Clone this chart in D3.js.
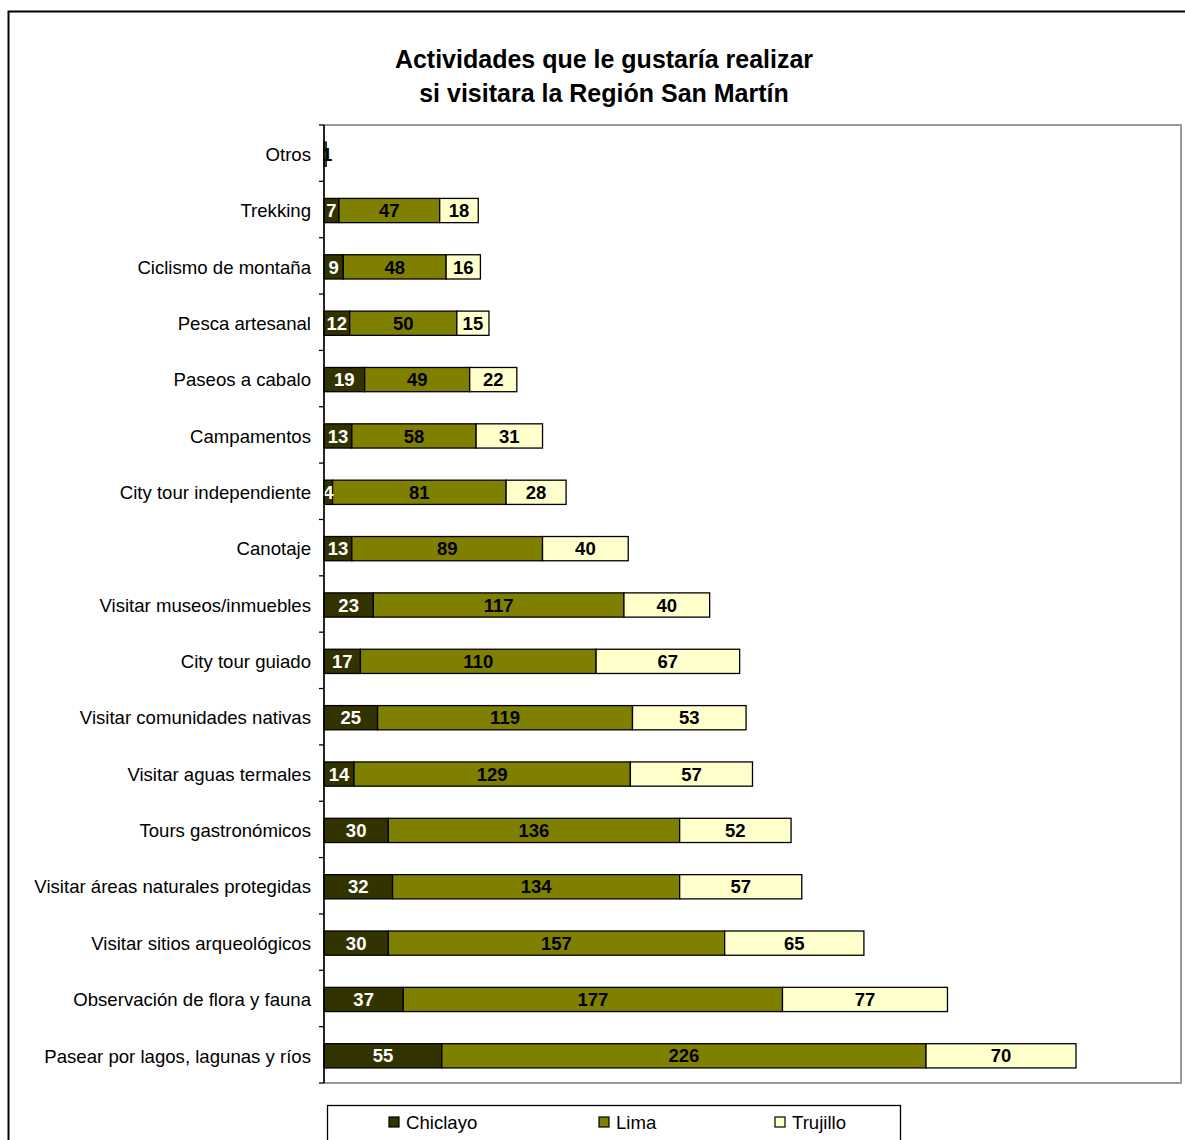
<!DOCTYPE html>
<html>
<head>
<meta charset="utf-8">
<script src="https://cdn.jsdelivr.net/npm/d3@7"></script>
<style>
  html, body { margin: 0; padding: 0; background: #fff; }
  svg { display: block; font-family: "Liberation Sans", Arial, sans-serif; }
</style>
</head>
<body>
<svg id="chart" width="1185" height="1140"></svg>
<script>
// Activities listed top to bottom
const categories = [
  "Otros",
  "Trekking",
  "Ciclismo de montaña",
  "Pesca artesanal",
  "Paseos a cabalo",
  "Campamentos",
  "City tour independiente",
  "Canotaje",
  "Visitar museos/inmuebles",
  "City tour guiado",
  "Visitar comunidades nativas",
  "Visitar aguas termales",
  "Tours gastronómicos",
  "Visitar áreas naturales protegidas",
  "Visitar sitios arqueológicos",
  "Observación de flora y fauna",
  "Pasear por lagos, lagunas y ríos"
];
const seriesNames = ["Chiclayo", "Lima", "Trujillo"];
const chiclayo = [0, 7, 9, 12, 19, 13, 4, 13, 23, 17, 25, 14, 30, 32, 30, 37, 55];
const lima     = [1, 47, 48, 50, 49, 58, 81, 89, 117, 110, 119, 129, 136, 134, 157, 177, 226];
const trujillo = [0, 18, 16, 15, 22, 31, 28, 40, 40, 67, 53, 57, 52, 57, 65, 77, 70];
const xMax = 400;

const colors = ["#333300", "#808000", "#ffffcc"];
const labelColors = ["#ffffff", "#000000", "#000000"];

const svg = d3.select("#chart");

// Outer chart frame
svg.append("rect")
  .attr("x", 8.5).attr("y", 11.5)
  .attr("width", 1190).attr("height", 1140)
  .attr("fill", "none").attr("stroke", "#000").attr("stroke-width", 2);

// Title
const title = svg.append("text")
  .attr("text-anchor", "middle")
  .attr("font-weight", "bold")
  .attr("font-size", 25)
  .attr("fill", "#000");
title.append("tspan").attr("x", 604).attr("y", 68).text("Actividades que le gustaría realizar");
title.append("tspan").attr("x", 604).attr("y", 102).text("si visitara la Región San Martín");

const plot = { left: 324, top: 125, right: 1181, bottom: 1083 };

// Plot area frame
svg.append("rect")
  .attr("x", plot.left).attr("y", plot.top)
  .attr("width", plot.right - plot.left).attr("height", plot.bottom - plot.top)
  .attr("fill", "#fff").attr("stroke", "#999").attr("stroke-width", 2);

const x = d3.scaleLinear().domain([0, xMax]).range([plot.left, plot.right]);
const y = d3.scaleBand().domain(categories).range([plot.top + 1, plot.bottom + 1]).paddingInner(0.57).paddingOuter(0.285);
const yTicks = d3.scaleBand().domain(categories).range([plot.top, plot.bottom]);

const rows = categories.map((c, i) => ({ cat: c, vals: [chiclayo[i], lima[i], trujillo[i]] }));
const stack = d3.stack().keys([0, 1, 2]).value((d, k) => d.vals[k]);
const layers = stack(rows);

const g = svg.append("g");
layers.forEach((layer, k) => {
  const lg = g.append("g");
  lg.selectAll("rect")
    .data(layer.filter(d => d[1] - d[0] > 0))
    .join("rect")
    .attr("x", d => x(d[0]))
    .attr("y", d => y(d.data.cat))
    .attr("width", d => x(d[1]) - x(d[0]))
    .attr("height", y.bandwidth())
    .attr("fill", colors[k])
    .attr("stroke", "#000")
    .attr("stroke-width", 1.3);
});

// Value labels centred in each segment
layers.forEach((layer, k) => {
  g.append("g").selectAll("text")
    .data(layer.filter(d => d[1] - d[0] > 0))
    .join("text")
    .attr("x", d => (x(d[0]) + x(d[1])) / 2 + (d[1] - d[0] < 2 ? 2 : 0))
    .attr("y", d => y(d.data.cat) + y.bandwidth() / 2)
    .attr("dy", "0.36em")
    .attr("text-anchor", "middle")
    .attr("font-weight", "bold")
    .attr("font-size", 18.5)
    .attr("fill", labelColors[k])
    .text(d => d[1] - d[0]);
});

// Category axis with ticks between categories
const axisG = svg.append("g");
axisG.append("line")
  .attr("x1", plot.left).attr("x2", plot.left)
  .attr("y1", plot.top).attr("y2", plot.bottom)
  .attr("stroke", "#000").attr("stroke-width", 1.5);
const bounds = categories.map(c => yTicks(c)).concat([plot.bottom]);
axisG.selectAll("line.tick")
  .data(bounds)
  .join("line")
  .attr("class", "tick")
  .attr("x1", plot.left - 5).attr("x2", plot.left)
  .attr("y1", d => d).attr("y2", d => d)
  .attr("stroke", "#000").attr("stroke-width", 1.3);
axisG.selectAll("text")
  .data(categories)
  .join("text")
  .attr("x", 311)
  .attr("y", d => yTicks(d) + yTicks.bandwidth() / 2 + 1)
  .attr("dy", "0.36em")
  .attr("text-anchor", "end")
  .attr("font-size", 18.6)
  .attr("fill", "#000")
  .text(d => d);

// Legend
const legend = svg.append("g");
legend.append("rect")
  .attr("x", 327.5).attr("y", 1105.5)
  .attr("width", 573).attr("height", 60)
  .attr("fill", "#fff").attr("stroke", "#000").attr("stroke-width", 1.3);
const legendX = [389, 599, 775];
seriesNames.forEach((name, k) => {
  legend.append("rect")
    .attr("x", legendX[k]).attr("y", 1117)
    .attr("width", 10).attr("height", 10)
    .attr("fill", colors[k]).attr("stroke", "#000").attr("stroke-width", 1.2);
  legend.append("text")
    .attr("x", legendX[k] + 17).attr("y", 1122)
    .attr("dy", "0.36em")
    .attr("font-size", 18.6)
    .attr("fill", "#000")
    .text(name);
});
</script>
</body>
</html>
